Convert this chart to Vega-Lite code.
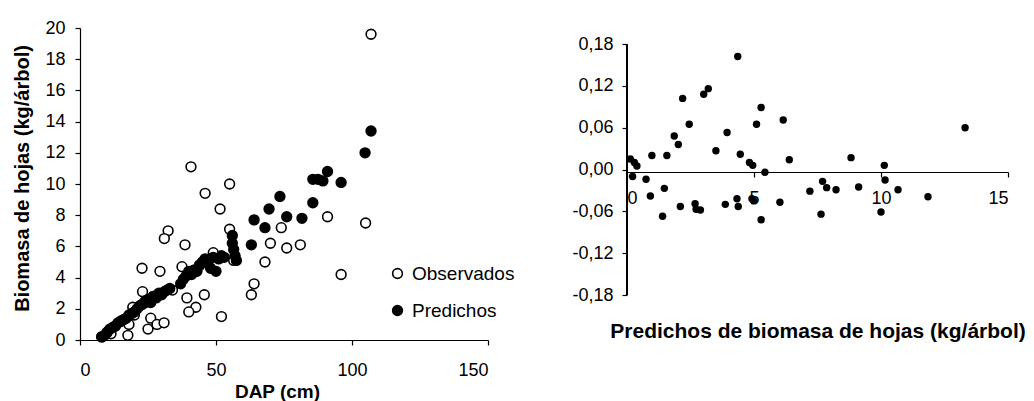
{
  "$schema": "https://vega.github.io/schema/vega-lite/v6.json",
  "padding": {"left": 12, "top": 19, "right": 0, "bottom": 0},
  "background": "white",
  "bounds": "flush",
  "spacing": 139,
  "config": {
    "font": "Liberation Sans",
    "view": {"stroke": null},
    "locale": {"number": {"decimal": ",", "thousands": ".", "grouping": [3], "currency": ["", ""], "minus": "-"}},
    "axis": {
      "grid": false, "domainColor": "black", "tickColor": "black", "labelColor": "black", "titleColor": "black",
      "labelFont": "Liberation Sans", "labelFontSize": 18, "titleFont": "Liberation Sans", "titleFontSize": 19, "titleFontWeight": "bold",
      "tickSize": 5, "domainWidth": 1.2, "tickWidth": 1.2
    }
  },
  "datasets": {
    "left": [
      {"dap": 107, "biomasa": 19.6, "serie": "Observados"},
      {"dap": 105, "biomasa": 7.5, "serie": "Observados"},
      {"dap": 91, "biomasa": 7.9, "serie": "Observados"},
      {"dap": 96, "biomasa": 4.2, "serie": "Observados"},
      {"dap": 81, "biomasa": 6.1, "serie": "Observados"},
      {"dap": 76, "biomasa": 5.9, "serie": "Observados"},
      {"dap": 70, "biomasa": 6.2, "serie": "Observados"},
      {"dap": 74, "biomasa": 7.2, "serie": "Observados"},
      {"dap": 68, "biomasa": 5.0, "serie": "Observados"},
      {"dap": 64, "biomasa": 3.6, "serie": "Observados"},
      {"dap": 63, "biomasa": 2.9, "serie": "Observados"},
      {"dap": 55, "biomasa": 10.0, "serie": "Observados"},
      {"dap": 51.5, "biomasa": 8.4, "serie": "Observados"},
      {"dap": 46, "biomasa": 9.4, "serie": "Observados"},
      {"dap": 55, "biomasa": 7.1, "serie": "Observados"},
      {"dap": 56.5, "biomasa": 5.1, "serie": "Observados"},
      {"dap": 52, "biomasa": 1.5, "serie": "Observados"},
      {"dap": 45.7, "biomasa": 2.9, "serie": "Observados"},
      {"dap": 40.8, "biomasa": 11.1, "serie": "Observados"},
      {"dap": 32.4, "biomasa": 7.0, "serie": "Observados"},
      {"dap": 31, "biomasa": 6.5, "serie": "Observados"},
      {"dap": 38.6, "biomasa": 6.1, "serie": "Observados"},
      {"dap": 22.8, "biomasa": 4.6, "serie": "Observados"},
      {"dap": 29.4, "biomasa": 4.4, "serie": "Observados"},
      {"dap": 37.5, "biomasa": 4.7, "serie": "Observados"},
      {"dap": 39.3, "biomasa": 2.7, "serie": "Observados"},
      {"dap": 42.6, "biomasa": 2.1, "serie": "Observados"},
      {"dap": 40, "biomasa": 1.8, "serie": "Observados"},
      {"dap": 23, "biomasa": 3.1, "serie": "Observados"},
      {"dap": 26, "biomasa": 1.4, "serie": "Observados"},
      {"dap": 25, "biomasa": 0.7, "serie": "Observados"},
      {"dap": 28.3, "biomasa": 1.0, "serie": "Observados"},
      {"dap": 30.9, "biomasa": 1.1, "serie": "Observados"},
      {"dap": 17.6, "biomasa": 0.3, "serie": "Observados"},
      {"dap": 18, "biomasa": 1.0, "serie": "Observados"},
      {"dap": 19.4, "biomasa": 2.1, "serie": "Observados"},
      {"dap": 11.4, "biomasa": 0.4, "serie": "Observados"},
      {"dap": 8, "biomasa": 0.2, "serie": "Observados"},
      {"dap": 10, "biomasa": 0.5, "serie": "Observados"},
      {"dap": 13, "biomasa": 0.9, "serie": "Observados"},
      {"dap": 15, "biomasa": 1.2, "serie": "Observados"},
      {"dap": 20, "biomasa": 1.6, "serie": "Observados"},
      {"dap": 24, "biomasa": 2.4, "serie": "Observados"},
      {"dap": 27, "biomasa": 2.8, "serie": "Observados"},
      {"dap": 34, "biomasa": 3.2, "serie": "Observados"},
      {"dap": 44, "biomasa": 4.8, "serie": "Observados"},
      {"dap": 49, "biomasa": 5.6, "serie": "Observados"},
      {"dap": 8, "biomasa": 0.2, "serie": "Predichos"},
      {"dap": 9, "biomasa": 0.3, "serie": "Predichos"},
      {"dap": 10, "biomasa": 0.5, "serie": "Predichos"},
      {"dap": 11, "biomasa": 0.7, "serie": "Predichos"},
      {"dap": 12, "biomasa": 0.8, "serie": "Predichos"},
      {"dap": 13, "biomasa": 0.9, "serie": "Predichos"},
      {"dap": 14, "biomasa": 1.1, "serie": "Predichos"},
      {"dap": 15, "biomasa": 1.2, "serie": "Predichos"},
      {"dap": 16, "biomasa": 1.3, "serie": "Predichos"},
      {"dap": 17, "biomasa": 1.4, "serie": "Predichos"},
      {"dap": 18, "biomasa": 1.6, "serie": "Predichos"},
      {"dap": 19, "biomasa": 1.7, "serie": "Predichos"},
      {"dap": 20, "biomasa": 1.8, "serie": "Predichos"},
      {"dap": 21, "biomasa": 2.0, "serie": "Predichos"},
      {"dap": 22, "biomasa": 2.2, "serie": "Predichos"},
      {"dap": 23, "biomasa": 2.3, "serie": "Predichos"},
      {"dap": 24, "biomasa": 2.5, "serie": "Predichos"},
      {"dap": 25, "biomasa": 2.6, "serie": "Predichos"},
      {"dap": 26, "biomasa": 2.4, "serie": "Predichos"},
      {"dap": 27, "biomasa": 2.8, "serie": "Predichos"},
      {"dap": 28, "biomasa": 2.7, "serie": "Predichos"},
      {"dap": 29, "biomasa": 3.0, "serie": "Predichos"},
      {"dap": 30, "biomasa": 2.9, "serie": "Predichos"},
      {"dap": 31, "biomasa": 3.1, "serie": "Predichos"},
      {"dap": 32, "biomasa": 3.2, "serie": "Predichos"},
      {"dap": 33, "biomasa": 3.3, "serie": "Predichos"},
      {"dap": 37, "biomasa": 3.6, "serie": "Predichos"},
      {"dap": 38, "biomasa": 3.9, "serie": "Predichos"},
      {"dap": 39, "biomasa": 4.1, "serie": "Predichos"},
      {"dap": 40, "biomasa": 4.4, "serie": "Predichos"},
      {"dap": 41, "biomasa": 4.2, "serie": "Predichos"},
      {"dap": 42, "biomasa": 4.5, "serie": "Predichos"},
      {"dap": 43, "biomasa": 4.4, "serie": "Predichos"},
      {"dap": 44, "biomasa": 4.8, "serie": "Predichos"},
      {"dap": 45, "biomasa": 5.0, "serie": "Predichos"},
      {"dap": 46, "biomasa": 5.2, "serie": "Predichos"},
      {"dap": 47, "biomasa": 5.0, "serie": "Predichos"},
      {"dap": 48, "biomasa": 4.6, "serie": "Predichos"},
      {"dap": 49, "biomasa": 5.3, "serie": "Predichos"},
      {"dap": 50, "biomasa": 4.4, "serie": "Predichos"},
      {"dap": 51, "biomasa": 5.2, "serie": "Predichos"},
      {"dap": 52, "biomasa": 5.4, "serie": "Predichos"},
      {"dap": 53, "biomasa": 5.3, "serie": "Predichos"},
      {"dap": 56, "biomasa": 6.7, "serie": "Predichos"},
      {"dap": 56, "biomasa": 6.2, "serie": "Predichos"},
      {"dap": 56.5, "biomasa": 5.8, "serie": "Predichos"},
      {"dap": 57, "biomasa": 5.4, "serie": "Predichos"},
      {"dap": 57.5, "biomasa": 5.1, "serie": "Predichos"},
      {"dap": 63, "biomasa": 6.1, "serie": "Predichos"},
      {"dap": 64, "biomasa": 7.7, "serie": "Predichos"},
      {"dap": 68, "biomasa": 7.2, "serie": "Predichos"},
      {"dap": 69.5, "biomasa": 8.4, "serie": "Predichos"},
      {"dap": 73.5, "biomasa": 9.2, "serie": "Predichos"},
      {"dap": 76, "biomasa": 7.9, "serie": "Predichos"},
      {"dap": 81.6, "biomasa": 7.8, "serie": "Predichos"},
      {"dap": 85.6, "biomasa": 8.8, "serie": "Predichos"},
      {"dap": 85.6, "biomasa": 10.3, "serie": "Predichos"},
      {"dap": 87.5, "biomasa": 10.3, "serie": "Predichos"},
      {"dap": 89.3, "biomasa": 10.2, "serie": "Predichos"},
      {"dap": 91, "biomasa": 10.8, "serie": "Predichos"},
      {"dap": 96, "biomasa": 10.1, "serie": "Predichos"},
      {"dap": 104.8, "biomasa": 12.0, "serie": "Predichos"},
      {"dap": 107, "biomasa": 13.4, "serie": "Predichos"}
    ],
    "right": [
      {"pred": 0.13, "resid": 0.015}, {"pred": 0.29, "resid": 0.010}, {"pred": 0.39, "resid": 0.005},
      {"pred": 0.22, "resid": -0.010}, {"pred": 0.75, "resid": -0.014}, {"pred": 0.98, "resid": 0.020},
      {"pred": 1.57, "resid": 0.020}, {"pred": 0.92, "resid": -0.038}, {"pred": 1.47, "resid": -0.027},
      {"pred": 1.40, "resid": -0.067}, {"pred": 1.86, "resid": 0.048}, {"pred": 2.02, "resid": 0.036},
      {"pred": 2.19, "resid": 0.102}, {"pred": 2.45, "resid": 0.065}, {"pred": 2.10, "resid": -0.053},
      {"pred": 2.68, "resid": -0.049}, {"pred": 2.72, "resid": -0.057}, {"pred": 2.89, "resid": -0.058},
      {"pred": 3.02, "resid": 0.108}, {"pred": 3.20, "resid": 0.116}, {"pred": 3.50, "resid": 0.027},
      {"pred": 3.94, "resid": 0.053}, {"pred": 3.87, "resid": -0.050}, {"pred": 4.36, "resid": 0.162},
      {"pred": 4.46, "resid": 0.022}, {"pred": 4.33, "resid": -0.042}, {"pred": 4.38, "resid": -0.053},
      {"pred": 4.82, "resid": 0.010}, {"pred": 4.95, "resid": 0.006}, {"pred": 4.92, "resid": -0.042},
      {"pred": 4.99, "resid": -0.045}, {"pred": 5.10, "resid": 0.065}, {"pred": 5.28, "resid": 0.089},
      {"pred": 5.43, "resid": -0.004}, {"pred": 5.28, "resid": -0.072}, {"pred": 6.02, "resid": -0.047},
      {"pred": 6.15, "resid": 0.071}, {"pred": 6.39, "resid": 0.014}, {"pred": 7.20, "resid": -0.031},
      {"pred": 7.64, "resid": -0.064}, {"pred": 7.70, "resid": -0.017}, {"pred": 7.86, "resid": -0.026},
      {"pred": 8.23, "resid": -0.029}, {"pred": 8.82, "resid": 0.017}, {"pred": 9.12, "resid": -0.025},
      {"pred": 10.13, "resid": 0.006}, {"pred": 10.16, "resid": -0.015}, {"pred": 10.0, "resid": -0.061},
      {"pred": 10.67, "resid": -0.029}, {"pred": 11.85, "resid": -0.039}, {"pred": 13.31, "resid": 0.060}
    ]
  },
  "hconcat": [
    {
      "width": 408,
      "height": 312,
      "data": {"name": "left"},
      "mark": {"type": "point", "shape": "circle", "filled": true, "stroke": "black", "strokeWidth": 1.6, "size": 95, "opacity": 1},
      "encoding": {
        "x": {"field": "dap", "type": "quantitative", "title": "DAP (cm)",
              "scale": {"domain": [0, 150], "nice": false},
              "axis": {"values": [0, 50, 100, 150], "labelPadding": 16, "titlePadding": 3, "titleX": 197}},
        "y": {"field": "biomasa", "type": "quantitative", "title": "Biomasa de hojas (kg/árbol)",
              "scale": {"domain": [0, 20], "nice": false},
              "axis": {"values": [0, 2, 4, 6, 8, 10, 12, 14, 16, 18, 20], "labelPadding": 10, "titlePadding": 12, "titleFontSize": 20, "titleY": 150}},
        "fill": {"field": "serie", "type": "nominal",
                 "scale": {"domain": ["Observados", "Predichos"], "range": ["white", "black"]},
                 "legend": {"orient": "none", "legendX": 308, "legendY": 236, "title": null,
                            "symbolType": "circle", "symbolSize": 95, "symbolStrokeColor": "black", "symbolStrokeWidth": 1.6,
                            "labelFont": "Liberation Sans", "labelFontSize": 19, "labelColor": "black", "labelOffset": 5,
                            "rowPadding": 17, "padding": 0}},
        "order": {"field": "serie", "type": "nominal"}
      }
    },
    {
      "width": 381,
      "height": 267,
      "data": {"name": "right"},
      "layer": [
        {
          "mark": {"type": "rule", "color": "black", "strokeWidth": 1.2},
          "encoding": {
            "x": {"datum": 0, "type": "quantitative"},
            "y": {"datum": -0.18, "type": "quantitative"},
            "y2": {"datum": 0.18}
          }
        },
        {
          "mark": {"type": "circle", "color": "black", "size": 55, "opacity": 1},
          "encoding": {
            "x": {"field": "pred", "type": "quantitative", "title": "Predichos de biomasa de hojas (kg/árbol)",
                  "scale": {"domain": [0, 15], "nice": false},
                  "axis": {"values": [0, 5, 10, 15], "offset": -123, "labelPadding": 12, "titlePadding": 113, "titleFontSize": 21}},
            "y": {"field": "resid", "type": "quantitative", "title": null,
                  "scale": {"domain": [-0.18, 0.203], "nice": false, "zero": false},
                  "axis": {"values": [-0.18, -0.12, -0.06, 0, 0.06, 0.12, 0.18], "format": ".2f", "labelPadding": 9, "domain": false}}
          }
        }
      ]
    }
  ]
}
